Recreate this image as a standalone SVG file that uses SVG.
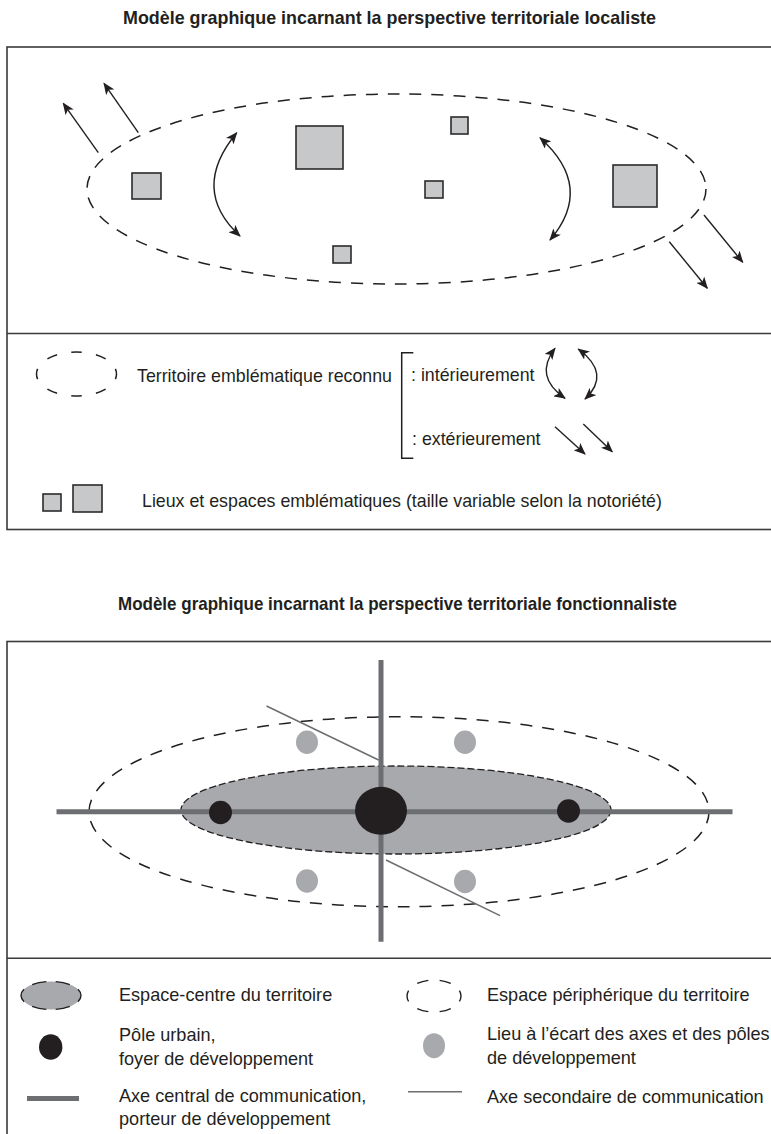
<svg xmlns="http://www.w3.org/2000/svg" width="771" height="1134" viewBox="0 0 771 1134">
<style>
.title{font-family:"Liberation Sans",Arial,sans-serif;font-weight:bold;font-size:17.8px;fill:#231f20;text-anchor:middle}
.lbl{font-family:"Liberation Sans",Arial,sans-serif;font-size:17.8px;fill:#231f20}
.lbl2{font-family:"Liberation Sans",Arial,sans-serif;font-size:18.1px;fill:#231f20}
.frame{fill:none;stroke:#3a3a3a;stroke-width:1.6}
.sq{fill:#c7c8ca;stroke:#2b2b2b;stroke-width:1.6}
.dash{fill:none;stroke:#231f20;stroke-width:1.5;stroke-dasharray:12 10}
.arr{fill:none;stroke:#231f20;stroke-width:1.4}
.axis{stroke:#6d6e71;stroke-width:5;fill:none}
.axis2{stroke:#6d6e71;stroke-width:1.5;fill:none}
.pole{fill:#231f20}
.lieu{fill:#a7a9ac}
</style>
<defs>
<marker id="ah" viewBox="0 0 12 10" refX="11" refY="5" markerWidth="12" markerHeight="10" markerUnits="userSpaceOnUse" orient="auto-start-reverse">
<path d="M0,0 L12,5 L0,10 L3,5 z" fill="#231f20"/>
</marker>
</defs>

<!-- Section 1 -->
<text class="title" x="389.5" y="24" textLength="533" lengthAdjust="spacingAndGlyphs">Modèle graphique incarnant la perspective territoriale localiste</text>
<g id="frame1">
<rect class="frame" x="7" y="47" width="775" height="482.5"/>
<line class="frame" x1="7" y1="333.5" x2="775" y2="333.5"/>
</g>
<g id="territoire1">
<ellipse class="dash" cx="396.5" cy="189" rx="309.5" ry="95"/>
</g>
<g id="lieux1">
<rect class="sq" x="132" y="173" width="29" height="26"/>
<rect class="sq" x="296" y="126" width="47" height="43"/>
<rect class="sq" x="451" y="117" width="17" height="17"/>
<rect class="sq" x="425" y="181" width="18" height="17"/>
<rect class="sq" x="333" y="246" width="18" height="17"/>
<rect class="sq" x="613" y="165" width="44" height="42"/>
</g>
<g id="connectors1">
<path class="arr" d="M236.7,132.7 Q189.6,189.6 240,236" marker-start="url(#ah)" marker-end="url(#ah)"/>
<path class="arr" d="M540,137.7 Q595,187 550,240" marker-start="url(#ah)" marker-end="url(#ah)"/>
<line class="arr" x1="98.3" y1="152.7" x2="63.3" y2="103.3" marker-end="url(#ah)"/>
<line class="arr" x1="138.3" y1="132.7" x2="104" y2="83.3" marker-end="url(#ah)"/>
<line class="arr" x1="704" y1="215" x2="742.7" y2="262.3" marker-end="url(#ah)"/>
<line class="arr" x1="669.3" y1="241.7" x2="707.3" y2="288.3" marker-end="url(#ah)"/>
</g>
<g id="legend1">
<ellipse fill="none" stroke="#231f20" stroke-width="1.5" cx="76.5" cy="374" rx="40" ry="22" pathLength="80" stroke-dasharray="4.3 5.7" stroke-dashoffset="2.15"/>
<text class="lbl" x="137" y="382">Territoire emblématique reconnu</text>
<path fill="none" stroke="#231f20" stroke-width="1.5" d="M413.3,352.7 H401.7 V458.3 H413.3"/>
<text class="lbl" x="411" y="381">: intérieurement</text>
<text class="lbl" x="412" y="445">: extérieurement</text>
<path class="arr" d="M555,348.3 Q533.4,376.6 565,398.3" marker-start="url(#ah)" marker-end="url(#ah)"/>
<path class="arr" d="M578.3,349 Q611.8,374 585,399" marker-start="url(#ah)" marker-end="url(#ah)"/>
<line class="arr" x1="555" y1="426.7" x2="585" y2="454" marker-end="url(#ah)"/>
<line class="arr" x1="583.3" y1="424" x2="612.3" y2="451.7" marker-end="url(#ah)"/>
<rect class="sq" x="43" y="494" width="18" height="17"/>
<rect class="sq" x="73" y="485" width="29" height="27"/>
<text class="lbl" x="142" y="507">Lieux et espaces emblématiques (taille variable selon la notoriété)</text>
</g>

<!-- Section 2 -->
<text class="title" x="397.5" y="610" textLength="559" lengthAdjust="spacingAndGlyphs">Modèle graphique incarnant la perspective territoriale fonctionnaliste</text>
<g id="frame2">
<rect class="frame" x="7" y="641.5" width="775" height="500"/>
<line class="frame" x1="7" y1="958.3" x2="775" y2="958.3"/>
</g>
<g id="peripherie">
<ellipse class="dash" cx="399" cy="811.7" rx="310" ry="95"/>
</g>
<g id="centre">
<ellipse fill="#a7a9ac" stroke="#231f20" stroke-width="1.3" stroke-dasharray="7 3" cx="396" cy="810" rx="215" ry="44"/>
</g>
<g id="connectors2">
<line class="axis" x1="56.5" y1="811.7" x2="732.5" y2="811.7"/>
<line class="axis" x1="381" y1="660" x2="381" y2="941.7"/>
<line class="axis2" x1="266.5" y1="706" x2="378.6" y2="760"/>
<line class="axis2" x1="386" y1="860" x2="500" y2="915.7"/>
</g>
<g id="poles">
<ellipse class="pole" cx="381" cy="810.8" rx="26" ry="24"/>
<ellipse class="pole" cx="220.5" cy="812.5" rx="11.5" ry="11.8"/>
<ellipse class="pole" cx="568.5" cy="811" rx="11.5" ry="11.7"/>
</g>
<g id="lieux2">
<ellipse class="lieu" cx="307" cy="742.3" rx="11" ry="11.7"/>
<ellipse class="lieu" cx="465" cy="742.3" rx="11" ry="11.7"/>
<ellipse class="lieu" cx="307" cy="881" rx="11" ry="11.7"/>
<ellipse class="lieu" cx="465" cy="881.5" rx="11" ry="11.7"/>
</g>
<g id="legend2">
<ellipse fill="#a7a9ac" stroke="#231f20" stroke-width="1.4" cx="51" cy="995.5" rx="30" ry="14" pathLength="60" stroke-dasharray="6 4" stroke-dashoffset="3"/>
<text class="lbl2" x="119" y="1001">Espace-centre du territoire</text>
<ellipse class="pole" cx="50.7" cy="1047" rx="11.7" ry="12.8"/>
<text class="lbl2" x="119" y="1041">Pôle urbain,</text>
<text class="lbl2" x="119" y="1065">foyer de développement</text>
<rect x="27" y="1096" width="52" height="5" fill="#6d6e71"/>
<text class="lbl2" x="119" y="1102">Axe central de communication,</text>
<text class="lbl2" x="119" y="1125">porteur de développement</text>
<ellipse fill="none" stroke="#231f20" stroke-width="1.4" cx="434" cy="996" rx="27" ry="16" pathLength="60" stroke-dasharray="5 5" stroke-dashoffset="2.5"/>
<text class="lbl2" x="487" y="1001">Espace périphérique du territoire</text>
<ellipse class="lieu" cx="434" cy="1045.7" rx="11" ry="12.5"/>
<text class="lbl2" x="487" y="1040">Lieu à l’écart des axes et des pôles</text>
<text class="lbl2" x="487" y="1064">de développement</text>
<line class="axis2" x1="408" y1="1091.7" x2="462" y2="1091.7"/>
<text class="lbl2" x="487" y="1103">Axe secondaire de communication</text>
</g>
</svg>
